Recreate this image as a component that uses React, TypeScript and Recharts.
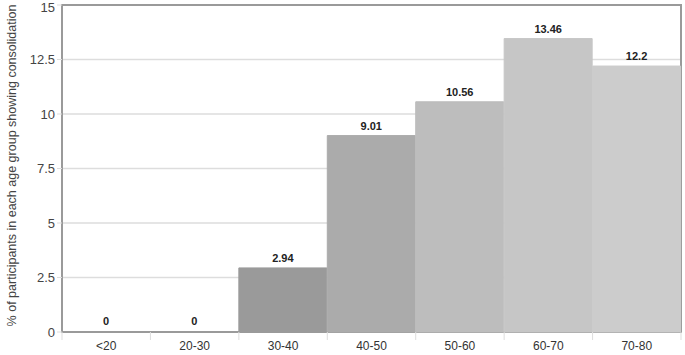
import { BarChart, Bar, XAxis, YAxis, CartesianGrid, Cell, LabelList, usePlotArea } from 'recharts'

const ageGroups = ['<20', '20-30', '30-40', '40-50', '50-60', '60-70', '70-80']
const percentages = [0, 0, 2.94, 9.01, 10.56, 13.46, 12.2]
const barColors = ['#9a9a9a', '#9a9a9a', '#9a9a9a', '#ababab', '#bdbdbd', '#c6c6c6', '#cccccc']
const yTicks = [0, 2.5, 5, 7.5, 10, 12.5, 15]

const data = ageGroups.map((g, i) => ({ group: g, value: percentages[i] }))

const FONT = '"Liberation Sans", Arial, sans-serif'

function Frame() {
  const area = usePlotArea()
  if (!area) return null
  return (
    <g>
      <rect
        x={area.x}
        y={area.y}
        width={area.width}
        height={area.height}
        fill="none"
        stroke="#9a9a9a"
        strokeWidth={2}
      />
      <text
        transform={`translate(13, ${area.y + area.height / 2 - 3}) rotate(-90)`}
        textAnchor="middle"
        dominantBaseline="middle"
        fontSize={12.5}
        fontFamily={FONT}
        fill="#444"
      >
        % of participants in each age group showing consolidation
      </text>
    </g>
  )
}

function GroupTick(props: any) {
  const { x, y, payload, index } = props
  const half = payload.offset ?? 0
  return (
    <g>
      <line x1={x - half} y1={y - 8} x2={x - half} y2={y} stroke="#dddddd" />
      {index === ageGroups.length - 1 && (
        <line x1={x + half} y1={y - 8} x2={x + half} y2={y} stroke="#dddddd" />
      )}
      <text x={x} y={y + 10} textAnchor="middle" fontSize={12} fontFamily={FONT} fill="#333">
        {payload.value}
      </text>
    </g>
  )
}

export default function App() {
  return (
    <div style={{ position: 'absolute', left: 0, top: 0, background: '#fff' }}>
      <BarChart
        width={685}
        height={355}
        data={data}
        margin={{ top: 5, right: 4, bottom: 0, left: 0 }}
        barCategoryGap={0}
      >
        <CartesianGrid vertical={false} stroke="#dddddd" strokeWidth={1.5} />
        <XAxis
          dataKey="group"
          height={23}
          axisLine={false}
          tickLine={false}
          tick={<GroupTick />}
          interval={0}
        />
        <YAxis
          width={62}
          domain={[0, 15]}
          ticks={yTicks}
          axisLine={false}
          tickLine={{ stroke: '#dddddd' }}
          tickSize={5}
          tick={{ fontSize: 13, fontFamily: FONT, fill: '#444' }}
        />
        <Bar dataKey="value" minPointSize={1} isAnimationActive={false}>
          {data.map((d, i) => (
            <Cell
              key={d.group}
              fill={barColors[i]}
              stroke={d.value > 0 ? barColors[i] : 'none'}
              strokeWidth={1}
            />
          ))}
          <LabelList
            dataKey="value"
            position="top"
            offset={6}
            style={{ fontSize: 11, fontWeight: 'bold', fontFamily: FONT, fill: '#222' }}
          />
        </Bar>
        <Frame />
      </BarChart>
    </div>
  )
}
